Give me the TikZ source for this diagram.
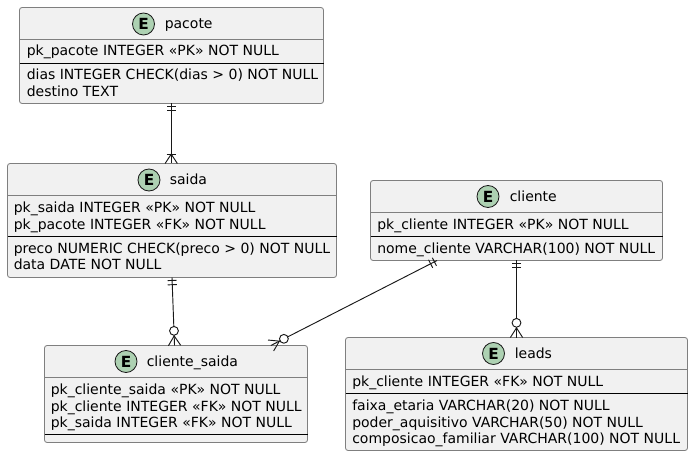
\documentclass[tikz,border=0pt]{standalone}
\usepackage{fontspec}
\usetikzlibrary{calc}
\setmainfont{DejaVu Sans}
\definecolor{boxfill}{HTML}{F1F1F1}
\definecolor{boxline}{HTML}{7F7F7F}
\definecolor{spot}{HTML}{ADD1B2}
\definecolor{ink}{HTML}{181818}
\tikzset{
  x=0.75pt,y=-0.75pt,
  ent/.style={draw=boxline,fill=boxfill,line width=0.6pt,rounded corners=1.9pt,inner sep=0pt,outer sep=0pt,anchor=north west},
  spotc/.style={circle,draw=ink,fill=spot,line width=0.6pt,minimum size=16.5pt,inner sep=0pt,font=\fontsize{11.5pt}{12pt}\selectfont\bfseries},
  lbl/.style={inner sep=0pt,anchor=base west,text=black,font=\fontsize{10.5pt}{12pt}\selectfont},
  rel/.style={draw=ink,line width=0.7pt},
  oc/.style={circle,draw=ink,fill=white,line width=0.7pt,minimum size=6.6pt,inner sep=0pt},
  hr/.style={draw=boxline,line width=0.6pt},
  sep/.style={draw=black,line width=0.75pt},
}
\newcommand{\ebox}[5]{% name, x1, y1, x2, y2
  \node[ent,minimum width=(#4-#2)*0.75pt,minimum height=(#5-#3)*0.75pt] (#1) at (#2,#3) {};
}
% cross bar at a distance #3 from #1 on the way to #2
\newcommand{\crossbar}[3]{%
  \coordinate (tmpb) at ($(#1)!#3!(#2)$);
  \draw[rel] ($(tmpb)!3.4pt!90:(#2)$) -- ($(tmpb)!3.4pt!-90:(#2)$);
}
% two feet from the apex at distance #2 from #1 towards #3, on both sides of #1
\newcommand{\crowfeet}[3]{%
  \coordinate (tmpa) at ($(#1)!#2!(#3)$);
  \draw[rel] ($(#1)!4.6pt!90:(#3)$) -- (tmpa) -- ($(#1)!4.6pt!-90:(#3)$);
}
\begin{document}
\begin{tikzpicture}
\useasboundingbox (0,0) rectangle (693,456);
% pacote
\ebox{pacote}{19.5}{7.5}{323.5}{103.5}
\draw[hr] (19.5,39.5) -- (323.5,39.5);
\draw[sep] (19.5,63.5) -- (323.5,63.5);
\node[spotc] (pacoteE) at (143.5,24) {E};
\node[lbl] (pacoteN) at (164.5,29) {pacote};
\node[lbl] (p1) at (26.5,56) {pk\_pacote INTEGER «PK» NOT NULL};
\node[lbl] (p2) at (26.5,80) {dias INTEGER CHECK(dias > 0) NOT NULL};
\node[lbl] (p3) at (26.5,97) {destino TEXT};
% saida
\ebox{saida}{7.5}{163.5}{336.5}{277.5}
\draw[hr] (7.5,195.5) -- (336.5,195.5);
\draw[sep] (7.5,236.5) -- (336.5,236.5);
\node[spotc] (saidaE) at (149,180) {E};
\node[lbl] (saidaN) at (169.5,185) {saida};
\node[lbl] (s1) at (13.5,213) {pk\_saida INTEGER «PK» NOT NULL};
\node[lbl] (s2) at (13.5,229) {pk\_pacote INTEGER «FK» NOT NULL};
\node[lbl] (s3) at (13.5,253) {preco NUMERIC CHECK(preco > 0) NOT NULL};
\node[lbl] (s4) at (13.5,270) {data DATE NOT NULL};
% cliente_saida
\ebox{cs}{44.5}{345.5}{307.5}{442.5}
\draw[hr] (44.5,377.5) -- (307.5,377.5);
\draw[sep] (44.5,434.5) -- (307.5,434.5);
\node[spotc] (csE) at (126,361.5) {E};
\node[lbl] (csN) at (146.5,366.5) {cliente\_saida};
\node[lbl] (c1) at (50.5,394.5) {pk\_cliente\_saida «PK» NOT NULL};
\node[lbl] (c2) at (50.5,411) {pk\_cliente INTEGER «FK» NOT NULL};
\node[lbl] (c3) at (50.5,427) {pk\_saida INTEGER «FK» NOT NULL};
% cliente
\ebox{cliente}{370.5}{180.5}{662.5}{260.5}
\draw[hr] (370.5,212.5) -- (662.5,212.5);
\draw[sep] (370.5,236.5) -- (662.5,236.5);
\node[spotc] (clienteE) at (488,196.5) {E};
\node[lbl] (clienteN) at (509.5,201.5) {cliente};
\node[lbl] (k1) at (377,229) {pk\_cliente INTEGER «PK» NOT NULL};
\node[lbl] (k2) at (377,253) {nome\_cliente VARCHAR(100) NOT NULL};
% leads
\ebox{leads}{345.5}{337.5}{687.5}{450.5}
\draw[hr] (345.5,369.5) -- (687.5,369.5);
\draw[sep] (345.5,393.5) -- (687.5,393.5);
\node[spotc] (leadsE) at (493.5,353.5) {E};
\node[lbl] (leadsN) at (514.5,358.5) {leads};
\node[lbl] (l1) at (352,386) {pk\_cliente INTEGER «FK» NOT NULL};
\node[lbl] (l2) at (352,410) {faixa\_etaria VARCHAR(20) NOT NULL};
\node[lbl] (l3) at (352,427) {poder\_aquisitivo VARCHAR(50) NOT NULL};
\node[lbl] (l4) at (352,443) {composicao\_familiar VARCHAR(100) NOT NULL};
% connector ends on the boxes
\coordinate (pa) at ([xshift=-0.2pt]pacote.south);
\coordinate (pb) at (pa |- saida.north);
\coordinate (sa) at (saida.south);
\coordinate (sb) at ([xshift=-1.1pt]cs.north);
\coordinate (ka) at ([xshift=-59.6pt]cliente.south);
\coordinate (kb) at ([xshift=-27.5pt]cs.north east);
\coordinate (ma) at (cliente.south);
\coordinate (mb) at (leads.north);
% pacote -- saida
\draw[rel] (pa) -- (pb);
\crossbar{pa}{pb}{2.2pt}
\crossbar{pa}{pb}{5.4pt}
\crossbar{pb}{pa}{7pt}
\crowfeet{pb}{7pt}{pa}
% saida -- cliente_saida
\draw[rel] (sa) -- (sb);
\crossbar{sa}{sb}{2.2pt}
\crossbar{sa}{sb}{5.4pt}
\crowfeet{sb}{7.2pt}{sa}
\node[oc] (so) at ($(sb)!11pt!(sa)$) {};
% cliente -- cliente_saida
\draw[rel] (ka) -- (kb);
\crossbar{ka}{kb}{2.2pt}
\crossbar{ka}{kb}{5.4pt}
\crowfeet{kb}{7.2pt}{ka}
\node[oc] (ko) at ($(kb)!11pt!(ka)$) {};
% cliente -- leads
\draw[rel] (ma) -- (mb);
\crossbar{ma}{mb}{2.2pt}
\crossbar{ma}{mb}{5.4pt}
\crowfeet{mb}{7.2pt}{ma}
\node[oc] (mo) at ($(mb)!11pt!(ma)$) {};
\end{tikzpicture}
\end{document}
